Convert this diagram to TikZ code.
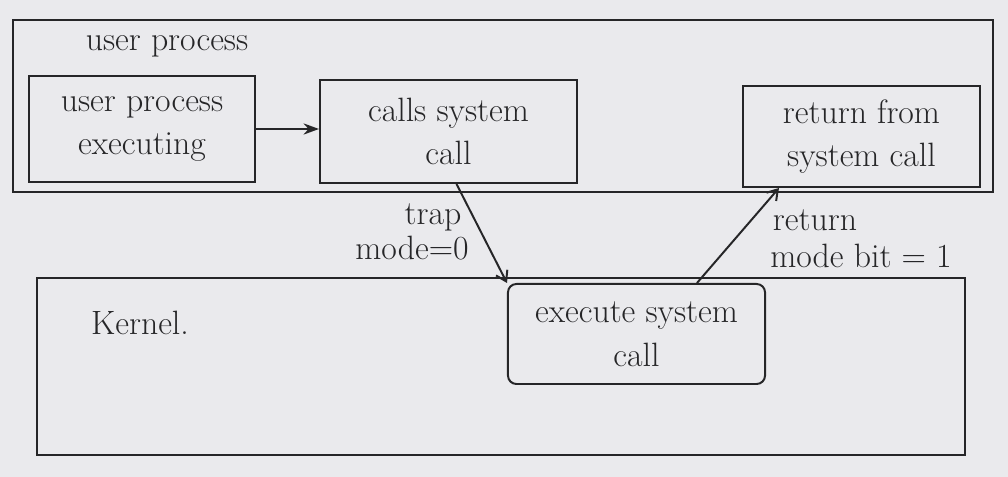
\documentclass[tikz,border=0pt]{standalone}
\usetikzlibrary{arrows.meta,calc}
\definecolor{paper}{RGB}{234,234,237}
\definecolor{ink}{RGB}{38,38,40}
\newcommand\hwfont{\fontsize{24}{31}\selectfont}
\tikzset{
  every node/.style={text=ink},
  ink line/.style={draw=ink, line width=1.4pt},
  procbox/.style={ink line, rectangle, align=center, inner sep=0pt, font=\hwfont},
  region/.style={ink line, rectangle, inner sep=0pt},
  lbl/.style={font=\hwfont, inner sep=0pt},
  solidarrow/.style={ink line, -{Stealth[length=11pt,width=8pt]}},
  barbarrow/.style={ink line, -{Straight Barb[length=7pt,width=9pt]}}
}
\begin{document}
\begin{tikzpicture}[x=0.025cm,y=-0.025cm]
  \fill[paper] (0,0) rectangle (1008,477);
  \useasboundingbox (0,0) rectangle (1008,477);
  % regions
  \node[region, minimum width=24.5cm, minimum height=4.3cm] (userreg) at (503,106) {};
  \node[region, minimum width=23.2cm, minimum height=4.425cm] (kernreg) at (501,366.5) {};
  \node[lbl] (userlbl) at (167,46) {user process};
  \node[lbl] (kernlbl) at (140,323) {Kernel.};
  % process boxes
  \node[procbox, minimum width=5.65cm, minimum height=2.65cm] (exec) at (142,129)
    {user process\\executing};
  \node[procbox, minimum width=6.425cm, minimum height=2.575cm] (calls) at (448.5,131.5)
    {calls system\\call};
  \node[procbox, minimum width=5.925cm, minimum height=2.525cm] (ret) at (861.5,136.5)
    {return from\\system call};
  \node[procbox, rounded corners=6pt, minimum width=6.425cm, minimum height=2.5cm] (sys) at (636.5,334)
    {execute system\\call};
  % arrows
  \draw[solidarrow] (exec.east) -- (exec.east -| calls.west);
  \draw[barbarrow] ($(calls.south)+(8,0)$) -- (sys.north west);
  \draw[barbarrow] ($(sys.north west)+(190,0)$) -- ($(ret.south west)+(37,0)$);
  % arrow labels
  \node[lbl] (traplbl) at (433,217) {trap};
  \node[lbl] (mode0lbl) at (412,248) {mode=0};
  \node[lbl] (retlbl) at (815,220) {return};
  \node[lbl] (mode1lbl) at (861,256) {mode bit = 1};
\end{tikzpicture}
\end{document}
